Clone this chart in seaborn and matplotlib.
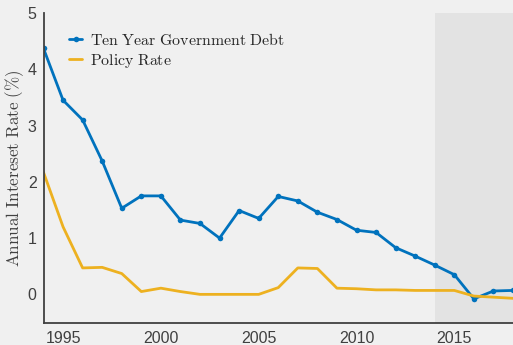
import matplotlib
matplotlib.use("Agg")
import matplotlib.pyplot as plt
import seaborn as sns
import pandas as pd

years = list(range(1994, 2019))
ten_year_debt = [4.37, 3.45, 3.10, 2.37, 1.53, 1.75, 1.75, 1.32, 1.26, 1.00, 1.49, 1.35,
                 1.74, 1.66, 1.46, 1.33, 1.14, 1.10, 0.83, 0.68, 0.52, 0.35, -0.08, 0.06, 0.07]
policy_rate = [2.17, 1.20, 0.47, 0.48, 0.37, 0.05, 0.11, 0.05, 0.00, 0.00, 0.00, 0.00,
               0.12, 0.47, 0.46, 0.11, 0.10, 0.08, 0.08, 0.07, 0.07, 0.07, -0.03, -0.05, -0.07]
shade_start, shade_end = 2014, 2018

sns.set_style("white")
plt.rcParams['mathtext.fontset'] = 'cm'
plt.rcParams['font.family'] = ['Liberation Sans', 'DejaVu Sans']

df = pd.DataFrame({"year": years, "debt": ten_year_debt, "policy": policy_rate})

fig = plt.figure(figsize=(5.13, 3.45), dpi=100, facecolor="#f0f0f0")
ax = fig.add_axes([0.0848, 0.0652, 0.9152, 0.8971])
ax.set_facecolor("#f0f0f0")

ax.axvspan(shade_start, shade_end, color="#e3e3e3", zorder=0, lw=0)

sns.lineplot(data=df, x="year", y="debt", ax=ax, color="#0072BD", lw=2,
             marker="o", markersize=4, markeredgewidth=0,
             label=r"$\mathrm{Ten\ Year\ Government\ Debt}$")
sns.lineplot(data=df, x="year", y="policy", ax=ax, color="#EDB120", lw=2,
             label=r"$\mathrm{Policy\ Rate}$")

ax.set_xlim(1994, 2018)
ax.set_ylim(-0.5, 5)
ax.set_xticks([1995, 2000, 2005, 2010, 2015])
ax.set_yticks([0, 1, 2, 3, 4, 5])
ax.set_xlabel("")
ax.set_ylabel(r"$\mathrm{Annual\ Intereset\ Rate\ (\%)}$", fontsize=12.3, color="#404040", labelpad=1)

for s in ["top", "right"]:
    ax.spines[s].set_visible(False)
for s in ["left", "bottom"]:
    ax.spines[s].set_color("#404040")
    ax.spines[s].set_linewidth(1.3)
ax.tick_params(direction="in", length=4, width=1, colors="#404040", labelsize=11.5)
ax.tick_params(axis="x", pad=6)
ax.tick_params(axis="y", pad=5)

leg = ax.legend(loc="upper left", frameon=False, fontsize=11.4, handlelength=0.85,
                handletextpad=0.5, borderaxespad=0, borderpad=0, labelspacing=0.25,
                bbox_to_anchor=(0.054, 0.939))

fig.savefig("out.png", dpi=100, facecolor="#f0f0f0")
